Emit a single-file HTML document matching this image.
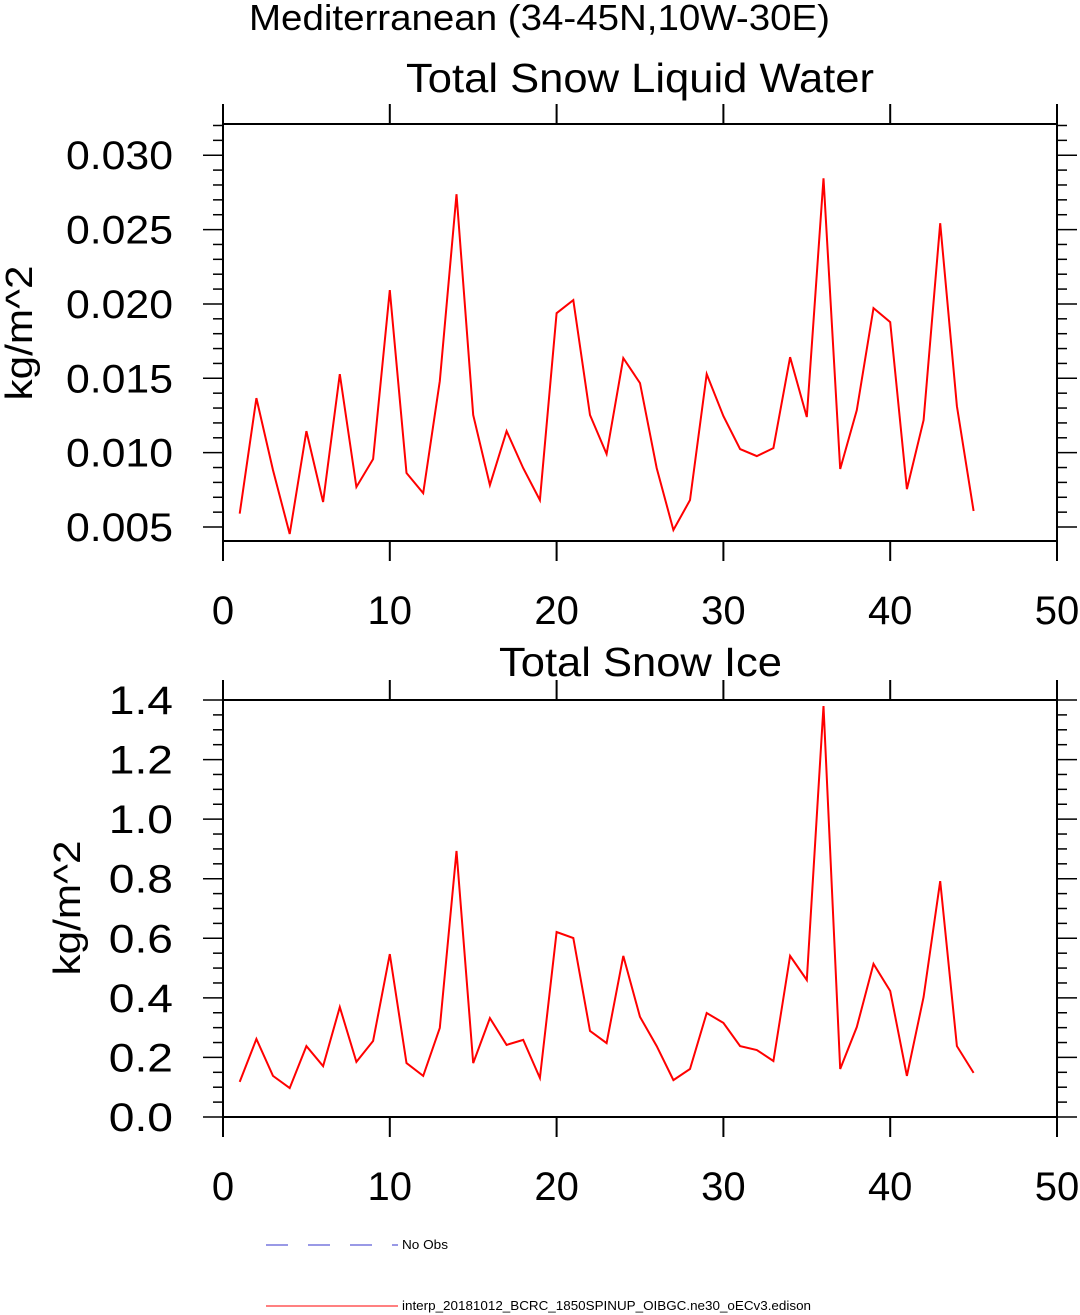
<!DOCTYPE html>
<html><head><meta charset="utf-8"><style>
body{margin:0;background:#fff;}
svg{display:block;font-family:"Liberation Sans",sans-serif;}
</style></head><body>
<svg id="c" width="1080" height="1315" viewBox="0 0 1080 1315">
<text x="249" y="30" font-size="36" textLength="581" lengthAdjust="spacingAndGlyphs">Mediterranean (34-45N,10W-30E)</text>
<text x="406" y="92" font-size="41" textLength="468" lengthAdjust="spacingAndGlyphs">Total Snow Liquid Water</text>
<text x="499" y="676" font-size="41" textLength="283" lengthAdjust="spacingAndGlyphs">Total Snow Ice</text>
<text transform="translate(32,333) rotate(-90)" font-size="38" text-anchor="middle" textLength="135" lengthAdjust="spacingAndGlyphs">kg/m^2</text>
<text transform="translate(80,908) rotate(-90)" font-size="38" text-anchor="middle" textLength="135" lengthAdjust="spacingAndGlyphs">kg/m^2</text>
<g>
<line x1="266" y1="1245" x2="398" y2="1245" stroke="#3333cc" stroke-width="1" stroke-dasharray="22,20"/>
<text x="402" y="1249" font-size="13" textLength="46" lengthAdjust="spacingAndGlyphs">No Obs</text>
<line x1="266" y1="1306" x2="398" y2="1306" stroke="#ff0000" stroke-width="1"/>
<text x="402" y="1310" font-size="13" textLength="409" lengthAdjust="spacingAndGlyphs">interp_20181012_BCRC_1850SPINUP_OIBGC.ne30_oECv3.edison</text>
</g>
</svg>
<script>
const days=[1,2,3,4,5,6,7,8,9,10,11,12,13,14,15,16,17,18,19,20,21,22,23,24,25,26,27,28,29,30,31,32,33,34,35,36,37,38,39,40,41,42,43,44,45];
const liquidWater=[0.0059,0.01367,0.00883,0.00453,0.01145,0.00668,0.01528,0.00769,0.00957,0.02093,0.00863,0.00728,0.01481,0.02738,0.01253,0.00782,0.01145,0.00896,0.00681,0.01938,0.02026,0.01253,0.00991,0.01636,0.01468,0.00896,0.0048,0.00681,0.01528,0.01246,0.01024,0.00977,0.01031,0.01642,0.0124,0.02845,0.0089,0.01286,0.01972,0.01878,0.00755,0.01219,0.02543,0.01313,0.00608];
const snowIce=[0.118,0.262,0.138,0.097,0.238,0.171,0.369,0.185,0.255,0.547,0.181,0.138,0.299,0.893,0.181,0.332,0.242,0.259,0.131,0.621,0.601,0.289,0.248,0.541,0.336,0.238,0.124,0.161,0.349,0.316,0.238,0.225,0.188,0.541,0.46,1.38,0.161,0.302,0.514,0.423,0.138,0.403,0.792,0.238,0.148];
const xTicks=[0,10,20,30,40,50];
const yTicks1=["0.005","0.010","0.015","0.020","0.025","0.030"];
const yTicks2=["0.0","0.2","0.4","0.6","0.8","1.0","1.2","1.4"];
const svg=document.getElementById('c');
const NS="http://www.w3.org/2000/svg";
function mk(tag,attrs){const e=document.createElementNS(NS,tag);for(const k in attrs)e.setAttribute(k,attrs[k]);svg.appendChild(e);return e;}
function panel(p){
  const L=223,R=1057;
  const sx=v=>L+(v-0)/(50-0)*(R-L);
  const sy=v=>p.bot-(v-p.ymin)/(p.ymax-p.ymin)*(p.bot-p.top);
  const fr=mk('rect',{x:L,y:p.top,width:R-L,height:p.bot-p.top,fill:'none',stroke:'#000','stroke-width':2});
  
  
  xTicks.forEach(t=>{
    const x=sx(t);
    const a=mk('line',{x1:x,y1:p.top,x2:x,y2:p.top-20,stroke:'#000','stroke-width':2});
    
    
    const b=mk('line',{x1:x,y1:p.bot,x2:x,y2:p.bot+20,stroke:'#000','stroke-width':2});
    
    
    const tx=mk('text',{x:x,y:p.bot+83,'font-size':40,'text-anchor':'middle'});
    tx.textContent=String(t);
    
    
  });
  for(let v=p.minorStart;v<=p.ymax+1e-9;v+=p.minor){
    const y=sy(v);
    const isMajor=p.labels.some(s=>Math.abs(parseFloat(s)-v)<p.minor/10);
    const len=isMajor?20:10;
    const a=mk('line',{x1:L,y1:y,x2:L-len,y2:y,stroke:'#000','stroke-width':1.5});
    
    
    const b=mk('line',{x1:R,y1:y,x2:R+len,y2:y,stroke:'#000','stroke-width':1.5});
    
    
  }
  p.labels.forEach(s=>{
    const tx=mk('text',{x:173,y:sy(parseFloat(s))+14,'font-size':40,'text-anchor':'end',textLength:s.length*21.4,lengthAdjust:'spacingAndGlyphs'});
    tx.textContent=s;
    
    
  });
  const pts=days.map((d,i)=>sx(d).toFixed(1)+','+sy(p.data[i]).toFixed(1)).join(' ');
  const ln=mk('polyline',{points:pts,fill:'none',stroke:'#ff0000','stroke-width':2});
  
  
}
panel({name:'liquid-water',top:124,bot:541,ymin:0.00406,ymax:0.0321,minor:0.001,minorStart:0.005,labels:yTicks1,data:liquidWater});
panel({name:'snow-ice',top:700,bot:1117,ymin:0,ymax:1.4,minor:0.05,minorStart:0,labels:yTicks2,data:snowIce});
</script>
</body></html>
